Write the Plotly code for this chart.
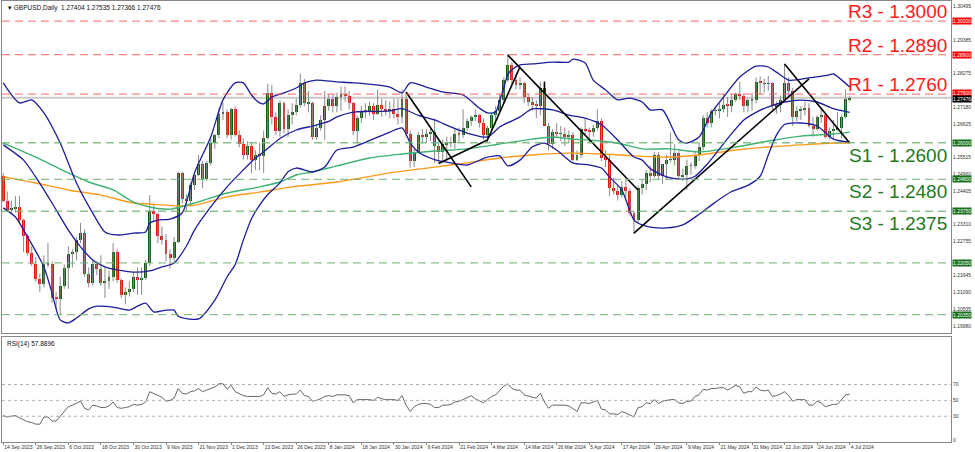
import pandas as pd
import plotly.graph_objects as go

# ---------------- categories (trading days shown on the chart) ----------------
dates = [f"{d.day} {d.strftime('%b %Y')}" for d in pd.bdate_range("2023-09-14", "2024-07-04")
         if d.strftime("%m-%d") not in ("12-25", "01-01")]

tick_dates = ["14 Sep 2023", "26 Sep 2023", "6 Oct 2023", "18 Oct 2023", "30 Oct 2023", "9 Nov 2023",
              "21 Nov 2023", "1 Dec 2023", "13 Dec 2023", "26 Dec 2023", "8 Jan 2024", "18 Jan 2024",
              "30 Jan 2024", "9 Feb 2024", "21 Feb 2024", "4 Mar 2024", "14 Mar 2024", "26 Mar 2024",
              "5 Apr 2024", "17 Apr 2024", "29 Apr 2024", "9 May 2024", "21 May 2024", "31 May 2024",
              "12 Jun 2024", "24 Jun 2024", "4 Jul 2024"]

# ---------------- GBPUSD daily OHLC ----------------
opens = [1.2490, 1.2410, 1.2380, 1.2385, 1.2390, 1.2345, 1.2295, 1.2238, 1.2203, 1.2152,
         1.2135, 1.2200, 1.2202, 1.2090, 1.2085, 1.2130, 1.2190, 1.2235, 1.2240, 1.2280,
         1.2305, 1.2170, 1.2140, 1.2200, 1.2185, 1.2140, 1.2145, 1.2160, 1.2240, 1.2150,
         1.2100, 1.2110, 1.2120, 1.2160, 1.2150, 1.2155, 1.2205, 1.2375, 1.2365, 1.2295,
         1.2280, 1.2235, 1.2220, 1.2275, 1.2500, 1.2415, 1.2410, 1.2460, 1.2495, 1.2530,
         1.2480, 1.2535, 1.2600, 1.2625, 1.2695, 1.2700, 1.2625, 1.2710, 1.2625, 1.2595,
         1.2560, 1.2590, 1.2545, 1.2560, 1.2555, 1.2615, 1.2765, 1.2685, 1.2640, 1.2730,
         1.2645, 1.2690, 1.2700, 1.2725, 1.2795, 1.2730, 1.2730, 1.2620, 1.2650, 1.2675,
         1.2720, 1.2745, 1.2720, 1.2750, 1.2760, 1.2755, 1.2730, 1.2640, 1.2680, 1.2705,
         1.2700, 1.2720, 1.2695, 1.2725, 1.2710, 1.2705, 1.2710, 1.2695, 1.2685, 1.2745,
         1.2630, 1.2540, 1.2570, 1.2625, 1.2620, 1.2630, 1.2635, 1.2590, 1.2570, 1.2595,
         1.2600, 1.2600, 1.2630, 1.2625, 1.2650, 1.2670, 1.2685, 1.2690, 1.2665, 1.2625,
         1.2650, 1.2690, 1.2705, 1.2740, 1.2805, 1.2855, 1.2805, 1.2790, 1.2795, 1.2750,
         1.2735, 1.2725, 1.2720, 1.2780, 1.2655, 1.2595, 1.2635, 1.2630, 1.2630, 1.2620,
         1.2625, 1.2545, 1.2560, 1.2645, 1.2640, 1.2635, 1.2650, 1.2670, 1.2550, 1.2545,
         1.2450, 1.2440, 1.2430, 1.2455, 1.2440, 1.2370, 1.2345, 1.2450, 1.2465, 1.2500,
         1.2490, 1.2560, 1.2490, 1.2530, 1.2545, 1.2545, 1.2565, 1.2490, 1.2495, 1.2525,
         1.2525, 1.2560, 1.2585, 1.2680, 1.2665, 1.2705, 1.2705, 1.2710, 1.2725, 1.2720,
         1.2740, 1.2760, 1.2755, 1.2720, 1.2740, 1.2740, 1.2800, 1.2795, 1.2795, 1.2795,
         1.2720, 1.2725, 1.2740, 1.2795, 1.2770, 1.2685, 1.2705, 1.2710, 1.2715, 1.2655,
         1.2645, 1.2685, 1.2690, 1.2620, 1.2640, 1.2645, 1.2650, 1.2685, 1.27404]

highs = [1.2500, 1.2440, 1.2410, 1.2425, 1.2425, 1.2350, 1.2300, 1.2260, 1.2225, 1.2170,
         1.2230, 1.2270, 1.2210, 1.2110, 1.2160, 1.2200, 1.2260, 1.2250, 1.2290, 1.2337,
         1.2315, 1.2190, 1.2215, 1.2210, 1.2230, 1.2190, 1.2180, 1.2270, 1.2250, 1.2155,
         1.2125, 1.2145, 1.2175, 1.2190, 1.2190, 1.2215, 1.2428, 1.2395, 1.2370, 1.2325,
         1.2300, 1.2250, 1.2290, 1.2505, 1.2505, 1.2430, 1.2470, 1.2505, 1.2560, 1.2540,
         1.2540, 1.2615, 1.2630, 1.2715, 1.2733, 1.2710, 1.2715, 1.2720, 1.2640, 1.2615,
         1.2605, 1.2600, 1.2575, 1.2600, 1.2640, 1.2794, 1.2790, 1.2700, 1.2740, 1.2735,
         1.2710, 1.2730, 1.2745, 1.2827, 1.2810, 1.2770, 1.2735, 1.2660, 1.2690, 1.2770,
         1.2760, 1.2760, 1.2765, 1.2785, 1.2785, 1.2770, 1.2735, 1.2690, 1.2720, 1.2730,
         1.2735, 1.2730, 1.2775, 1.2745, 1.2740, 1.2735, 1.2745, 1.2745, 1.2775, 1.2760,
         1.2640, 1.2580, 1.2635, 1.2645, 1.2645, 1.2645, 1.2680, 1.2605, 1.2610, 1.2620,
         1.2620, 1.2645, 1.2650, 1.2710, 1.2680, 1.2690, 1.2710, 1.2695, 1.2680, 1.2655,
         1.2700, 1.2720, 1.2760, 1.2815, 1.2893, 1.2865, 1.2825, 1.2815, 1.2800, 1.2760,
         1.2750, 1.2740, 1.2800, 1.2803, 1.2665, 1.2645, 1.2665, 1.2655, 1.2650, 1.2640,
         1.2635, 1.2575, 1.2650, 1.2682, 1.2650, 1.2660, 1.2710, 1.2680, 1.2575, 1.2560,
         1.2485, 1.2460, 1.2475, 1.2480, 1.2450, 1.2375, 1.2460, 1.2480, 1.2510, 1.2525,
         1.2570, 1.2570, 1.2530, 1.2560, 1.2634, 1.2595, 1.2575, 1.2515, 1.2545, 1.2535,
         1.2570, 1.2600, 1.2690, 1.2700, 1.2710, 1.2720, 1.2730, 1.2760, 1.2750, 1.2760,
         1.2765, 1.2800, 1.2760, 1.2745, 1.2765, 1.2815, 1.2818, 1.2810, 1.2820, 1.2800,
         1.2735, 1.2755, 1.2860, 1.2815, 1.2780, 1.2720, 1.2720, 1.2735, 1.2730, 1.2685,
         1.2690, 1.2710, 1.2695, 1.2650, 1.2675, 1.2700, 1.2690, 1.2775, 1.27535]

lows = [1.2405, 1.2375, 1.2365, 1.2370, 1.2335, 1.2240, 1.2230, 1.2195, 1.2145, 1.2110,
        1.2125, 1.2190, 1.2075, 1.2055, 1.2037, 1.2120, 1.2120, 1.2190, 1.2215, 1.2270,
        1.2160, 1.2125, 1.2130, 1.2165, 1.2130, 1.2090, 1.2120, 1.2145, 1.2140, 1.2090,
        1.2069, 1.2095, 1.2110, 1.2100, 1.2100, 1.2150, 1.2195, 1.2340, 1.2270, 1.2265,
        1.2210, 1.2187, 1.2210, 1.2270, 1.2400, 1.2375, 1.2390, 1.2445, 1.2490, 1.2450,
        1.2475, 1.2525, 1.2580, 1.2615, 1.2675, 1.2615, 1.2610, 1.2620, 1.2585, 1.2545,
        1.2545, 1.2500, 1.2510, 1.2510, 1.2500, 1.2610, 1.2660, 1.2625, 1.2620, 1.2630,
        1.2620, 1.2660, 1.2690, 1.2715, 1.2720, 1.2700, 1.2610, 1.2610, 1.2640, 1.2610,
        1.2705, 1.2700, 1.2700, 1.2705, 1.2735, 1.2710, 1.2625, 1.2597, 1.2665, 1.2680,
        1.2690, 1.2675, 1.2690, 1.2685, 1.2690, 1.2680, 1.2680, 1.2660, 1.2665, 1.2620,
        1.2518, 1.2520, 1.2565, 1.2600, 1.2600, 1.2605, 1.2535, 1.2535, 1.2540, 1.2540,
        1.2585, 1.2580, 1.2600, 1.2615, 1.2640, 1.2655, 1.2670, 1.2650, 1.2610, 1.2600,
        1.2640, 1.2660, 1.2700, 1.2730, 1.2800, 1.2790, 1.2775, 1.2775, 1.2730, 1.2720,
        1.2705, 1.2680, 1.2690, 1.2660, 1.2575, 1.2580, 1.2620, 1.2605, 1.2590, 1.2600,
        1.2540, 1.2540, 1.2550, 1.2625, 1.2600, 1.2620, 1.2640, 1.2540, 1.2520, 1.2425,
        1.2430, 1.2410, 1.2420, 1.2420, 1.2360, 1.2300, 1.2335, 1.2430, 1.2445, 1.2470,
        1.2485, 1.2480, 1.2465, 1.2480, 1.2535, 1.2525, 1.2480, 1.2475, 1.2445, 1.2495,
        1.2515, 1.2540, 1.2575, 1.2650, 1.2650, 1.2690, 1.2680, 1.2700, 1.2685, 1.2700,
        1.2735, 1.2740, 1.2700, 1.2700, 1.2705, 1.2730, 1.2760, 1.2765, 1.2770, 1.2705,
        1.2695, 1.2700, 1.2735, 1.2750, 1.2655, 1.2670, 1.2675, 1.2690, 1.2650, 1.2620,
        1.2640, 1.2665, 1.2615, 1.2610, 1.2615, 1.2640, 1.2615, 1.2680, 1.27366]

closes = [1.2410, 1.2380, 1.2385, 1.2390, 1.2345, 1.2295, 1.2238, 1.2203, 1.2152, 1.2135,
          1.2200, 1.2202, 1.2090, 1.2085, 1.2130, 1.2190, 1.2235, 1.2240, 1.2280, 1.2305,
          1.2170, 1.2140, 1.2200, 1.2185, 1.2140, 1.2145, 1.2160, 1.2240, 1.2150, 1.2100,
          1.2110, 1.2120, 1.2160, 1.2150, 1.2155, 1.2205, 1.2375, 1.2365, 1.2295, 1.2280,
          1.2235, 1.2220, 1.2275, 1.2500, 1.2415, 1.2410, 1.2460, 1.2495, 1.2530, 1.2480,
          1.2535, 1.2600, 1.2625, 1.2695, 1.2700, 1.2625, 1.2710, 1.2625, 1.2595, 1.2560,
          1.2590, 1.2545, 1.2560, 1.2555, 1.2615, 1.2765, 1.2685, 1.2640, 1.2730, 1.2645,
          1.2690, 1.2700, 1.2725, 1.2795, 1.2730, 1.2730, 1.2620, 1.2650, 1.2675, 1.2720,
          1.2745, 1.2720, 1.2750, 1.2760, 1.2755, 1.2730, 1.2640, 1.2680, 1.2705, 1.2700,
          1.2720, 1.2695, 1.2725, 1.2710, 1.2705, 1.2710, 1.2695, 1.2685, 1.2745, 1.2630,
          1.2540, 1.2570, 1.2625, 1.2620, 1.2630, 1.2635, 1.2590, 1.2570, 1.2595, 1.2600,
          1.2600, 1.2630, 1.2625, 1.2650, 1.2670, 1.2685, 1.2690, 1.2665, 1.2625, 1.2650,
          1.2690, 1.2705, 1.2740, 1.2805, 1.2855, 1.2805, 1.2790, 1.2795, 1.2750, 1.2735,
          1.2725, 1.2720, 1.2780, 1.2655, 1.2595, 1.2635, 1.2630, 1.2630, 1.2620, 1.2625,
          1.2545, 1.2560, 1.2645, 1.2640, 1.2635, 1.2650, 1.2670, 1.2550, 1.2545, 1.2450,
          1.2440, 1.2430, 1.2455, 1.2440, 1.2370, 1.2345, 1.2450, 1.2465, 1.2500, 1.2490,
          1.2560, 1.2490, 1.2530, 1.2545, 1.2545, 1.2565, 1.2490, 1.2495, 1.2525, 1.2525,
          1.2560, 1.2585, 1.2680, 1.2665, 1.2705, 1.2705, 1.2710, 1.2725, 1.2720, 1.2740,
          1.2760, 1.2755, 1.2720, 1.2740, 1.2740, 1.2800, 1.2795, 1.2795, 1.2795, 1.2720,
          1.2725, 1.2740, 1.2795, 1.2770, 1.2685, 1.2705, 1.2710, 1.2715, 1.2655, 1.2645,
          1.2685, 1.2690, 1.2620, 1.2640, 1.2645, 1.2650, 1.2685, 1.2745, 1.27476]

# ---------------- indicators (sample points) ----------------
bb_upper = [("14 Sep 2023", 1.2797), ("20 Sep 2023", 1.2731), ("25 Sep 2023", 1.2741), ("28 Sep 2023", 1.2698),
            ("4 Oct 2023", 1.2599), ("10 Oct 2023", 1.2468), ("16 Oct 2023", 1.2369), ("19 Oct 2023", 1.2307),
            ("24 Oct 2023", 1.2297), ("30 Oct 2023", 1.2303), ("2 Nov 2023", 1.2307), ("3 Nov 2023", 1.2336),
            ("7 Nov 2023", 1.2346), ("10 Nov 2023", 1.2349), ("15 Nov 2023", 1.2370), ("20 Nov 2023", 1.2501),
            ("24 Nov 2023", 1.2619), ("29 Nov 2023", 1.2741), ("4 Dec 2023", 1.2797), ("6 Dec 2023", 1.2797),
            ("8 Dec 2023", 1.2757), ("12 Dec 2023", 1.2731), ("13 Dec 2023", 1.2728), ("15 Dec 2023", 1.2750),
            ("20 Dec 2023", 1.2764), ("26 Dec 2023", 1.2780), ("28 Dec 2023", 1.2797), ("3 Jan 2024", 1.2806),
            ("10 Jan 2024", 1.2800), ("16 Jan 2024", 1.2797), ("29 Jan 2024", 1.2783), ("1 Feb 2024", 1.2764),
            ("5 Feb 2024", 1.2797), ("9 Feb 2024", 1.2783), ("15 Feb 2024", 1.2767), ("22 Feb 2024", 1.2757),
            ("28 Feb 2024", 1.2714), ("1 Mar 2024", 1.2698), ("5 Mar 2024", 1.2701), ("6 Mar 2024", 1.2740),
            ("7 Mar 2024", 1.2780), ("8 Mar 2024", 1.2825), ("11 Mar 2024", 1.2840), ("13 Mar 2024", 1.2856),
            ("18 Mar 2024", 1.2859), ("25 Mar 2024", 1.2865), ("29 Mar 2024", 1.2865), ("1 Apr 2024", 1.2875),
            ("4 Apr 2024", 1.2862), ("8 Apr 2024", 1.2806), ("11 Apr 2024", 1.2774), ("16 Apr 2024", 1.2741),
            ("19 Apr 2024", 1.2747), ("24 Apr 2024", 1.2734), ("26 Apr 2024", 1.2708), ("1 May 2024", 1.2708),
            ("7 May 2024", 1.2609), ("9 May 2024", 1.2599), ("14 May 2024", 1.2619), ("17 May 2024", 1.2698),
            ("22 May 2024", 1.2750), ("28 May 2024", 1.2816), ("3 Jun 2024", 1.2852), ("6 Jun 2024", 1.2849),
            ("10 Jun 2024", 1.2832), ("13 Jun 2024", 1.2806), ("20 Jun 2024", 1.2813), ("27 Jun 2024", 1.2823),
            ("28 Jun 2024", 1.2826), ("4 Jul 2024", 1.2783)]

bb_middle = [("14 Sep 2023", 1.2593), ("21 Sep 2023", 1.2543), ("26 Sep 2023", 1.2487), ("2 Oct 2023", 1.2402),
             ("6 Oct 2023", 1.2313), ("11 Oct 2023", 1.2258), ("16 Oct 2023", 1.2215), ("19 Oct 2023", 1.2192),
             ("24 Oct 2023", 1.2182), ("30 Oct 2023", 1.2175), ("3 Nov 2023", 1.2179), ("8 Nov 2023", 1.2192),
             ("13 Nov 2023", 1.2205), ("16 Nov 2023", 1.2260), ("20 Nov 2023", 1.2313), ("24 Nov 2023", 1.2389),
             ("30 Nov 2023", 1.2455), ("6 Dec 2023", 1.2511), ("11 Dec 2023", 1.2550), ("13 Dec 2023", 1.2570),
             ("19 Dec 2023", 1.2614), ("26 Dec 2023", 1.2642), ("2 Jan 2024", 1.2655), ("8 Jan 2024", 1.2670),
             ("10 Jan 2024", 1.2685), ("16 Jan 2024", 1.2701), ("22 Jan 2024", 1.2703), ("29 Jan 2024", 1.2705),
             ("1 Feb 2024", 1.2712), ("7 Feb 2024", 1.2690), ("13 Feb 2024", 1.2675), ("19 Feb 2024", 1.2652),
             ("23 Feb 2024", 1.2632), ("1 Mar 2024", 1.2619), ("6 Mar 2024", 1.2652), ("13 Mar 2024", 1.2685),
             ("18 Mar 2024", 1.2711), ("25 Mar 2024", 1.2708), ("29 Mar 2024", 1.2691), ("4 Apr 2024", 1.2681),
             ("10 Apr 2024", 1.2659), ("16 Apr 2024", 1.2609), ("22 Apr 2024", 1.2553), ("24 Apr 2024", 1.2543),
             ("26 Apr 2024", 1.2515), ("2 May 2024", 1.2488), ("8 May 2024", 1.2480), ("13 May 2024", 1.2490),
             ("16 May 2024", 1.2530), ("21 May 2024", 1.2580), ("24 May 2024", 1.2630), ("29 May 2024", 1.2675),
             ("3 Jun 2024", 1.2700), ("6 Jun 2024", 1.2718), ("12 Jun 2024", 1.2734), ("18 Jun 2024", 1.2740),
             ("24 Jun 2024", 1.2734), ("28 Jun 2024", 1.2712), ("4 Jul 2024", 1.2700)]

bb_lower = [("14 Sep 2023", 1.2386), ("19 Sep 2023", 1.2356), ("22 Sep 2023", 1.2290), ("28 Sep 2023", 1.2192),
            ("2 Oct 2023", 1.2106), ("4 Oct 2023", 1.2018), ("6 Oct 2023", 1.2008), ("10 Oct 2023", 1.2024),
            ("13 Oct 2023", 1.2054), ("17 Oct 2023", 1.2063), ("23 Oct 2023", 1.2060), ("27 Oct 2023", 1.2050),
            ("31 Oct 2023", 1.2063), ("2 Nov 2023", 1.2073), ("6 Nov 2023", 1.2044), ("9 Nov 2023", 1.2050),
            ("13 Nov 2023", 1.2050), ("14 Nov 2023", 1.2030), ("21 Nov 2023", 1.2021), ("27 Nov 2023", 1.2083),
            ("30 Nov 2023", 1.2159), ("4 Dec 2023", 1.2200), ("6 Dec 2023", 1.2280), ("8 Dec 2023", 1.2350),
            ("12 Dec 2023", 1.2395), ("14 Dec 2023", 1.2430), ("19 Dec 2023", 1.2468), ("21 Dec 2023", 1.2505),
            ("26 Dec 2023", 1.2517), ("2 Jan 2024", 1.2504), ("5 Jan 2024", 1.2520), ("10 Jan 2024", 1.2576),
            ("16 Jan 2024", 1.2586), ("29 Jan 2024", 1.2635), ("1 Feb 2024", 1.2649), ("5 Feb 2024", 1.2600),
            ("7 Feb 2024", 1.2570), ("13 Feb 2024", 1.2545), ("19 Feb 2024", 1.2534), ("23 Feb 2024", 1.2527),
            ("1 Mar 2024", 1.2553), ("6 Mar 2024", 1.2557), ("8 Mar 2024", 1.2524), ("13 Mar 2024", 1.2543),
            ("18 Mar 2024", 1.2586), ("21 Mar 2024", 1.2599), ("26 Mar 2024", 1.2576), ("1 Apr 2024", 1.2534),
            ("5 Apr 2024", 1.2527), ("10 Apr 2024", 1.2517), ("12 Apr 2024", 1.2487), ("17 Apr 2024", 1.2445),
            ("22 Apr 2024", 1.2346), ("24 Apr 2024", 1.2330), ("26 Apr 2024", 1.2323), ("2 May 2024", 1.2320),
            ("8 May 2024", 1.2330), ("14 May 2024", 1.2365), ("20 May 2024", 1.2405), ("24 May 2024", 1.2440),
            ("30 May 2024", 1.2460), ("4 Jun 2024", 1.2490), ("6 Jun 2024", 1.2560), ("10 Jun 2024", 1.2625),
            ("12 Jun 2024", 1.2660), ("18 Jun 2024", 1.2665), ("24 Jun 2024", 1.2655), ("28 Jun 2024", 1.2612),
            ("4 Jul 2024", 1.2602)]

ma_green = [("14 Sep 2023", 1.2599), ("26 Sep 2023", 1.2553), ("6 Oct 2023", 1.2501), ("13 Oct 2023", 1.2471),
            ("23 Oct 2023", 1.2445), ("30 Oct 2023", 1.2405), ("3 Nov 2023", 1.2389), ("10 Nov 2023", 1.2382),
            ("20 Nov 2023", 1.2402), ("30 Nov 2023", 1.2435), ("12 Dec 2023", 1.2455), ("19 Dec 2023", 1.2471),
            ("26 Dec 2023", 1.2494), ("2 Jan 2024", 1.2504), ("10 Jan 2024", 1.2524), ("22 Jan 2024", 1.2550),
            ("1 Feb 2024", 1.2563), ("13 Feb 2024", 1.2573), ("23 Feb 2024", 1.2580), ("6 Mar 2024", 1.2596),
            ("18 Mar 2024", 1.2612), ("25 Mar 2024", 1.2619), ("1 Apr 2024", 1.2612), ("10 Apr 2024", 1.2606),
            ("17 Apr 2024", 1.2596), ("24 Apr 2024", 1.2580), ("3 May 2024", 1.2580), ("14 May 2024", 1.2570),
            ("27 May 2024", 1.2586), ("6 Jun 2024", 1.2606), ("18 Jun 2024", 1.2622), ("28 Jun 2024", 1.2629),
            ("4 Jul 2024", 1.2635)]

ma_orange = [("14 Sep 2023", 1.2488), ("26 Sep 2023", 1.2468), ("6 Oct 2023", 1.2445), ("18 Oct 2023", 1.2428),
             ("30 Oct 2023", 1.2402), ("3 Nov 2023", 1.2399), ("14 Nov 2023", 1.2392), ("20 Nov 2023", 1.2395),
             ("30 Nov 2023", 1.2422), ("12 Dec 2023", 1.2438), ("22 Dec 2023", 1.2455), ("10 Jan 2024", 1.2471),
             ("29 Jan 2024", 1.2501), ("13 Feb 2024", 1.2520), ("23 Feb 2024", 1.2534), ("6 Mar 2024", 1.2550),
             ("18 Mar 2024", 1.2560), ("29 Mar 2024", 1.2566), ("10 Apr 2024", 1.2563), ("22 Apr 2024", 1.2557),
             ("2 May 2024", 1.2553), ("14 May 2024", 1.2560), ("27 May 2024", 1.2576), ("6 Jun 2024", 1.2586),
             ("18 Jun 2024", 1.2593), ("28 Jun 2024", 1.2599), ("4 Jul 2024", 1.2599)]

rsi_values = [31, 29, 30, 31, 28, 25, 23, 22, 20, 20,
              29, 29, 24, 24, 30, 36, 42, 44, 47, 49,
              40, 38, 44, 43, 41, 41, 43, 48, 41, 40,
              41, 42, 45, 44, 45, 48, 61, 59, 56, 54,
              49, 50, 53, 65, 59, 58, 61, 62, 65, 61,
              63, 65, 67, 71, 71, 64, 69, 61, 58, 56,
              55, 55, 55, 55, 57, 66, 59, 58, 61, 55,
              57, 58, 58, 63, 56, 55, 49, 50, 52, 55,
              56, 55, 57, 57, 57, 56, 47, 51, 51, 51,
              51, 50, 54, 52, 51, 51, 51, 50, 56, 44,
              36, 42, 45, 46, 46, 45, 41, 41, 44, 44,
              45, 48, 49, 51, 53, 56, 52, 49, 47, 51,
              55, 57, 62, 68, 71, 65, 63, 63, 57, 55,
              54, 53, 59, 48, 40, 44, 44, 44, 44, 43,
              40, 36, 47, 47, 46, 48, 50, 39, 38, 33,
              33, 32, 36, 34, 31, 29, 41, 42, 47, 46,
              51, 46, 49, 50, 51, 51, 47, 46, 49, 49,
              55, 57, 64, 63, 65, 65, 66, 66, 63, 66,
              69, 67, 59, 61, 61, 67, 63, 62, 63, 55,
              56, 58, 61, 56, 49, 51, 51, 51, 44, 44,
              49, 47, 42, 44, 45, 45, 51, 57, 57.8896]
rsi_levels = [70, 50, 30]
rsi_ticks = [70, 50, 30, 0]

# ---------------- analyst drawings / levels ----------------
trend_start_dates = ["2 Feb 2024", "14 Feb 2024", "1 Mar 2024", "8 Mar 2024", "21 Mar 2024", "22 Apr 2024", "12 Jun 2024"]
trend_start_vals = [1.2767, 1.2532, 1.2609, 1.2888, 1.2800, 1.2303, 1.2859]
trend_end_dates = ["26 Feb 2024", "1 Mar 2024", "13 Mar 2024", "23 Apr 2024", "21 Mar 2024", "20 Jun 2024", "4 Jul 2024"]
trend_end_vals = [1.2455, 1.2609, 1.2850, 1.2445, 1.2765, 1.2810, 1.2599]

resistance_levels = [1.3000, 1.2890, 1.2760]
resistance_labels = ["R3 - 1.3000", "R2 - 1.2890", "R1 - 1.2760"]
support_levels = [1.2600, 1.2480, 1.2375]
support_labels = ["S1 - 1.2600", "S2 - 1.2480", "S3 - 1.2375"]
extra_support_levels = [1.2205, 1.2035]
current_price = 1.27476

price_ticks = [1.30495, 1.29385, 1.28275, 1.27180, 1.26625, 1.25515, 1.24960, 1.24405, 1.23310,
               1.22755, 1.21645, 1.21090, 1.20535, 1.19980]

title_text = "GBPUSD,Daily  1.27404 1.27535 1.27366 1.27476"
rsi_title = "RSI(14) 57.8896"

# ---------------- styles ----------------
FONT = "Liberation Sans"
RED_LINE = "rgba(255,90,90,0.75)"
GREEN_LINE = "rgba(110,175,110,0.8)"
RED_TXT = "#ff1a1a"
GREEN_TXT = "#1f7a1f"
BB_COL = "#1c1c9c"
UP_COL = "#0e5c0e"
DN_COL = "#e8120c"
WICK_COL = "#8a8a8a"

fig = go.Figure()

# wicks (high-low) from the OHLC arrays
wx, wy = [], []
for d, h, l in zip(dates, highs, lows):
    wx += [d, d, None]
    wy += [l, h, None]
fig.add_trace(go.Scatter(x=wx, y=wy, mode="lines", line=dict(color=WICK_COL, width=1),
                         showlegend=False, hoverinfo="skip", xaxis="x", yaxis="y"))

# bodies (open-close) from the OHLC arrays
body_len = [c - o if abs(c - o) > 0.00008 else 0.00008 for o, c in zip(opens, closes)]
body_col = [UP_COL if c >= o else DN_COL for o, c in zip(opens, closes)]
fig.add_trace(go.Bar(x=dates, y=body_len, base=opens, width=0.72, marker=dict(color=body_col, line=dict(width=0)),
                     showlegend=False, hoverinfo="skip", xaxis="x", yaxis="y"))

def curve(points, color, width):
    return go.Scatter(x=[p[0] for p in points], y=[p[1] for p in points], mode="lines",
                      line=dict(color=color, width=width, shape="spline", smoothing=0.7),
                      showlegend=False, hoverinfo="skip", xaxis="x", yaxis="y")

fig.add_trace(curve(ma_orange, "#ff9a1a", 1.4))
fig.add_trace(curve(ma_green, "#3cb371", 1.4))
fig.add_trace(curve(bb_upper, BB_COL, 1.3))
fig.add_trace(curve(bb_middle, BB_COL, 1.3))
fig.add_trace(curve(bb_lower, BB_COL, 1.3))

tx, ty = [], []
for a, b, c, d in zip(trend_start_dates, trend_start_vals, trend_end_dates, trend_end_vals):
    tx += [a, c, None]
    ty += [b, d, None]
fig.add_trace(go.Scatter(x=tx, y=ty, mode="lines", line=dict(color="black", width=1.6),
                         showlegend=False, hoverinfo="skip", xaxis="x", yaxis="y"))

fig.add_trace(go.Scatter(x=dates, y=rsi_values, mode="lines", line=dict(color="#666666", width=1),
                         showlegend=False, hoverinfo="skip", xaxis="x2", yaxis="y2"))

shapes = []
annotations = []
for lvl in resistance_levels:
    shapes.append(dict(type="line", xref="paper", x0=0, x1=1, yref="y", y0=lvl, y1=lvl,
                       line=dict(color=RED_LINE, width=1.3, dash="8px,5px")))
for lvl in support_levels + extra_support_levels:
    shapes.append(dict(type="line", xref="paper", x0=0, x1=1, yref="y", y0=lvl, y1=lvl,
                       line=dict(color=GREEN_LINE, width=1.3, dash="8px,5px")))
shapes.append(dict(type="line", xref="paper", x0=0, x1=1, yref="y", y0=current_price, y1=current_price,
                   line=dict(color="#c9c9c9", width=2), layer="below"))
for lvl in rsi_levels:
    shapes.append(dict(type="line", xref="paper", x0=0, x1=1, yref="y2", y0=lvl, y1=lvl,
                       line=dict(color="#b0b0b0", width=1, dash="dot")))

for lvl, txt in zip(resistance_levels, resistance_labels):
    annotations.append(dict(xref="paper", x=0.998, xanchor="right", yref="y", y=lvl, yanchor="bottom",
                            yshift=-3, text=txt, showarrow=False,
                            font=dict(family=FONT, size=19, color=RED_TXT)))
for lvl, txt in zip(support_levels, support_labels):
    annotations.append(dict(xref="paper", x=0.998, xanchor="right", yref="y", y=lvl, yanchor="top",
                            yshift=0, text=txt, showarrow=False,
                            font=dict(family=FONT, size=19, color=GREEN_TXT)))

tag_list = ([(v, "#ff0000", 0) for v in resistance_levels[:2]] + [(resistance_levels[2], "#ff0000", 1.5)] +
            [(current_price, "#000000", -1.5)] +
            [(v, "#17701a", 0) for v in support_levels + extra_support_levels])
for v, col, shift in tag_list:
    annotations.append(dict(xref="paper", x=1, xanchor="left", xshift=1, yref="y", y=v, yanchor="middle",
                            yshift=shift, text=f"{v:.5f}", showarrow=False, bgcolor=col, borderpad=0,
                            font=dict(family=FONT, size=5, color="white")))

annotations.append(dict(xref="paper", x=0, xanchor="left", xshift=4, yref="paper", y=1, yanchor="top",
                        yshift=-1, text="▾ " + title_text, showarrow=False,
                        font=dict(family=FONT, size=6.5, color="#111")))
annotations.append(dict(xref="paper", x=0, xanchor="left", xshift=3, yref="paper", y=0.2381, yanchor="top",
                        yshift=-1, text=rsi_title, showarrow=False,
                        font=dict(family=FONT, size=6.5, color="#111")))

axis_common = dict(showgrid=False, zeroline=False, showline=True, mirror=True, linecolor="#888", linewidth=1,
                   automargin=False)

fig.update_layout(
    width=975, height=452, margin=dict(l=2, r=24, t=1, b=10),
    paper_bgcolor="white", plot_bgcolor="white", font=dict(family=FONT, color="#333"),
    showlegend=False, shapes=shapes, annotations=annotations, bargap=0,
    xaxis=dict(domain=[0, 1], anchor="y", type="category", categoryorder="array", categoryarray=dates,
               range=[-0.3, 232.9], showticklabels=False, ticks="", **axis_common),
    xaxis2=dict(domain=[0, 1], anchor="y2", matches="x", type="category", categoryorder="array",
                categoryarray=dates, tickmode="array", tickvals=tick_dates, ticktext=tick_dates,
                tickangle=0, ticks="outside", ticklen=2, tickcolor="#888", ticklabelposition="outside right",
                tickfont=dict(size=5, color="#333"), **axis_common),
    yaxis=dict(domain=[0.2472, 1], anchor="x", range=[1.19749, 1.30659], side="right",
               tickmode="array", tickvals=price_ticks, ticktext=[f"{t:.5f}" for t in price_ticks],
               ticks="", tickfont=dict(size=5, color="#333"), **axis_common),
    yaxis2=dict(domain=[0, 0.2381], anchor="x2", range=[-2.5, 130], side="right",
                tickmode="array", tickvals=rsi_ticks, ticks="",
                tickfont=dict(size=5, color="#333"), **axis_common),
)

fig.write_html("out.html", config={"displayModeBar": False},
               post_script="document.body.style.margin='0';document.body.style.padding='0';")
